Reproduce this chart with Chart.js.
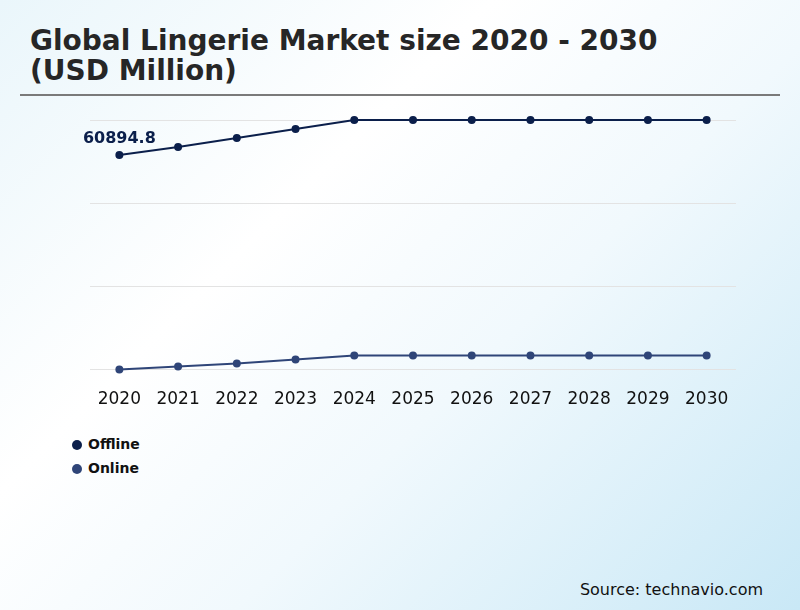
<!DOCTYPE html>
<html>
<head>
<meta charset="utf-8">
<script src="https://cdn.jsdelivr.net/npm/chart.js@4"></script>
<style>
  html, body { margin: 0; padding: 0; }
  body {
    width: 800px; height: 610px; position: relative; overflow: hidden;
    font-family: "DejaVu Sans", sans-serif;
    background: linear-gradient(135deg, #eaf6fb 0%, #ffffff 35%, #f1f9fd 60%, #c9e8f6 100%);
  }
  #title {
    position: absolute; left: 30px; top: 26px;
    font-size: 28px; font-weight: bold; line-height: 30px; color: #262626;
  }
  #rule { position: absolute; left: 20px; top: 94px; width: 760px; height: 2px; background: #7a7a7a; }
  #wrap { position: absolute; left: 0; top: 100px; width: 800px; height: 322px; }
  #legend { position: absolute; left: 72px; top: 435px; font-size: 14px; font-weight: bold; color: #111; }
  #legend div { height: 24px; line-height: 18px; }
  #legend span.dot { display: inline-block; width: 10px; height: 10px; border-radius: 50%; margin-right: 6px; vertical-align: -1px; }
  #source { position: absolute; right: 37px; top: 580px; font-size: 16px; color: #111; }
</style>
</head>
<body>
<div id="title">Global Lingerie Market size 2020 - 2030<br>(USD Million)</div>
<div id="rule"></div>
<div id="wrap"><canvas id="myChart"></canvas></div>
<div id="legend"></div>
<div id="source">Source: technavio.com</div>
<script>
const years = ['2020', '2021', '2022', '2023', '2024', '2025', '2026', '2027', '2028', '2029', '2030'];
const offline = [60894.8, 62820, 64980, 67140, 69300, 69300, 69300, 69300, 69300, 69300, 69300];
const online = [9300, 10020, 10740, 11700, 12660, 12660, 12660, 12660, 12660, 12660, 12660];
const seriesNames = ['Offline', 'Online'];
const seriesColors = ['#0b1f4b', '#2f4578'];

// legend drawn by hand, stacked at bottom left
const legendBox = document.getElementById('legend');
seriesNames.forEach((name, i) => {
  const row = document.createElement('div');
  const dot = document.createElement('span');
  dot.className = 'dot';
  dot.style.background = seriesColors[i];
  row.appendChild(dot);
  row.appendChild(document.createTextNode(name));
  legendBox.appendChild(row);
});

// value label above the first offline point
const firstLabel = {
  id: 'firstLabel',
  afterDatasetsDraw(chart) {
    const c = chart.ctx;
    const x = chart.scales.x.getPixelForValue(0);
    const y = chart.scales.y.getPixelForValue(offline[0]);
    c.save();
    c.font = 'bold 16px "DejaVu Sans"';
    c.fillStyle = seriesColors[0];
    c.textAlign = 'center';
    c.textBaseline = 'middle';
    c.fillText(offline[0].toString(), x, y - 16);
    c.restore();
  }
};

const ctx = document.getElementById('myChart').getContext('2d');
const myChart = new Chart(ctx, {
  type: 'line',
  data: {
    labels: years,
    datasets: [
      { label: seriesNames[0], data: offline, borderColor: seriesColors[0], backgroundColor: seriesColors[0],
        borderWidth: 2, pointRadius: 3, clip: false, tension: 0 },
      { label: seriesNames[1], data: online, borderColor: seriesColors[1], backgroundColor: seriesColors[1],
        borderWidth: 2, pointRadius: 3, clip: false, tension: 0 }
    ]
  },
  options: {
    responsive: true,
    maintainAspectRatio: false,
    animation: false,
    layout: { padding: { left: 90, right: 64, top: 20, bottom: 0 } },
    plugins: { legend: { display: false }, tooltip: { enabled: false } },
    scales: {
      x: {
        offset: true,
        grid: { display: false },
        border: { display: false },
        ticks: { color: '#111', font: { family: 'DejaVu Sans', size: 17 }, padding: 12, maxRotation: 0 }
      },
      y: {
        min: 9300, max: 69300,
        ticks: { display: false, stepSize: 20000 },
        grid: { color: '#e3e3e3', drawTicks: false },
        border: { display: false }
      }
    }
  },
  plugins: [firstLabel]
});
</script>
</body>
</html>
